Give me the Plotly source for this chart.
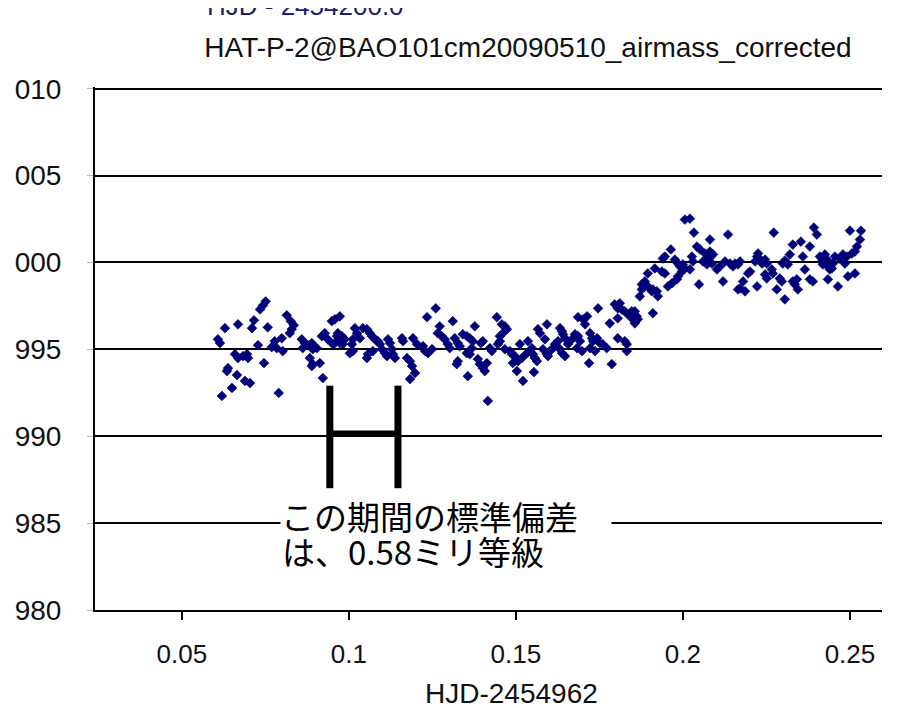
import plotly.graph_objects as go

# ---- data (HJD-2454962, relative flux) ----
hjd_seg1 = [0.0751, 0.0743, 0.0734, 0.0814, 0.0826, 0.0835, 0.0829, 0.0823, 0.0716, 0.0710,
            0.0668, 0.0629, 0.0757, 0.0608, 0.0614, 0.0728, 0.0778, 0.0769, 0.0784, 0.0799,
            0.0802, 0.0659, 0.0683, 0.0695, 0.0668, 0.0698, 0.0746, 0.0638, 0.0635, 0.0665,
            0.0689, 0.0704, 0.0650, 0.0620, 0.0790, 0.0859, 0.0868, 0.0862, 0.0877, 0.0889,
            0.0892, 0.0904, 0.0883, 0.0892, 0.0913, 0.0889, 0.0922, 0.0919, 0.0928, 0.0949,
            0.0958, 0.0937, 0.0952, 0.0964, 0.0958]
flux_seg1 = [0.99776, 0.99753, 0.99730, 0.99696, 0.99662, 0.99639, 0.99616, 0.99593, 0.99667, 0.99622,
             0.99644, 0.99622, 0.99627, 0.99558, 0.99536, 0.99524, 0.99547, 0.99513, 0.99507, 0.99564,
             0.99490, 0.99472, 0.99461, 0.99472, 0.99450, 0.99450, 0.99421, 0.99392, 0.99375, 0.99352,
             0.99318, 0.99306, 0.99278, 0.99232, 0.99249, 0.99558, 0.99536, 0.99507, 0.99524, 0.99536,
             0.99501, 0.99507, 0.99450, 0.99415, 0.99421, 0.99404, 0.99335, 0.99576, 0.99593, 0.99662,
             0.99673, 0.99558, 0.99530, 0.99576, 0.99536]

hjd_seg2 = [0.0973, 0.0967, 0.0979, 0.0988, 0.0973, 0.0982, 0.1018, 0.1024, 0.1033, 0.1012,
            0.1009, 0.1003, 0.1012, 0.1042, 0.1054, 0.1063, 0.1069, 0.1078, 0.1087, 0.1054,
            0.1057, 0.1072, 0.1093, 0.1099, 0.1108, 0.1117, 0.1123, 0.1129, 0.1132, 0.1138,
            0.1114, 0.1159, 0.1162, 0.1174, 0.1183, 0.1189, 0.1198, 0.1183, 0.1192, 0.1204,
            0.1222, 0.1228, 0.1237, 0.1249, 0.1234, 0.1260, 0.1272, 0.1266, 0.1278, 0.1287,
            0.1296, 0.1302, 0.1311, 0.1317, 0.1326, 0.1332, 0.1326, 0.1323, 0.1341, 0.1353, 0.1356]
flux_seg2 = [0.99690, 0.99593, 0.99576, 0.99558, 0.99536, 0.99530, 0.99622, 0.99593, 0.99564, 0.99558,
             0.99530, 0.99478, 0.99490, 0.99622, 0.99616, 0.99593, 0.99576, 0.99558, 0.99547, 0.99450,
             0.99472, 0.99490, 0.99530, 0.99501, 0.99478, 0.99558, 0.99536, 0.99501, 0.99472, 0.99450,
             0.99461, 0.99564, 0.99547, 0.99450, 0.99432, 0.99404, 0.99364, 0.99329, 0.99564, 0.99530,
             0.99518, 0.99490, 0.99478, 0.99501, 0.99685, 0.99736, 0.99633, 0.99593, 0.99576, 0.99558,
             0.99530, 0.99507, 0.99662, 0.99564, 0.99536, 0.99518, 0.99432, 0.99415, 0.99587, 0.99576, 0.99346]

hjd_seg3 = [0.1377, 0.1362, 0.1371, 0.1368, 0.1353, 0.1362, 0.1386, 0.1392, 0.1401, 0.1413,
            0.1407, 0.1395, 0.1401, 0.1422, 0.1428, 0.1446, 0.1452, 0.1443, 0.1458, 0.1467,
            0.1473, 0.1461, 0.1452, 0.1467, 0.1482, 0.1488, 0.1497, 0.1491, 0.1503, 0.1506,
            0.1518, 0.1512, 0.1521, 0.1533, 0.1536, 0.1542, 0.1551, 0.1557, 0.1563, 0.1548,
            0.1554, 0.1566, 0.1572, 0.1593, 0.1587, 0.1581, 0.1593, 0.1596, 0.1602, 0.1611,
            0.1617, 0.1626, 0.1632, 0.1638, 0.1641, 0.1647, 0.1632, 0.1647, 0.1638, 0.1656,
            0.1668, 0.1677, 0.1686, 0.1692, 0.1683, 0.1698, 0.1686, 0.1701, 0.1713, 0.1707,
            0.1722, 0.1728, 0.1731, 0.1722, 0.1737, 0.1719, 0.1746, 0.1416]
flux_seg3 = [0.99633, 0.99564, 0.99547, 0.99507, 0.99478, 0.99472, 0.99444, 0.99415, 0.99392, 0.99421,
             0.99375, 0.99536, 0.99547, 0.99507, 0.99490, 0.99530, 0.99547, 0.99685, 0.99644, 0.99633,
             0.99616, 0.99593, 0.99576, 0.99501, 0.99490, 0.99472, 0.99461, 0.99421, 0.99375, 0.99432,
             0.99450, 0.99530, 0.99318, 0.99478, 0.99547, 0.99490, 0.99472, 0.99450, 0.99432, 0.99507,
             0.99369, 0.99616, 0.99593, 0.99644, 0.99558, 0.99501, 0.99472, 0.99461, 0.99490, 0.99507,
             0.99530, 0.99547, 0.99622, 0.99604, 0.99587, 0.99564, 0.99501, 0.99461, 0.99478, 0.99530,
             0.99558, 0.99587, 0.99576, 0.99547, 0.99507, 0.99490, 0.99685, 0.99673, 0.99690, 0.99644,
             0.99593, 0.99564, 0.99547, 0.99507, 0.99490, 0.99421, 0.99736, 0.99203]

hjd_seg4 = [0.2006, 0.2021, 0.2033, 0.2081, 0.2042, 0.2051, 0.2066, 0.2081, 0.2090, 0.2075,
            0.2060, 0.2072, 0.2087, 0.2027, 0.2030, 0.1964, 0.1946, 0.1940, 0.1976, 0.1985,
            0.1991, 0.2000, 0.2006, 0.1997, 0.1985, 0.1982, 0.2021, 0.1916, 0.1937, 0.1946,
            0.1955, 0.1967, 0.2048, 0.1895, 0.1886, 0.1877, 0.1895, 0.1907, 0.1910, 0.1922,
            0.1925, 0.1871, 0.1877, 0.2102, 0.2111, 0.2120, 0.2135, 0.1796, 0.1805, 0.1811,
            0.1817, 0.1826, 0.1835, 0.1847, 0.1856, 0.1862, 0.1850, 0.1856, 0.1865, 0.1805,
            0.1781, 0.1910, 0.1743, 0.1751, 0.1760, 0.1772, 0.1805, 0.1832, 0.1832, 0.1826, 0.1787]
flux_seg4 = [1.00247, 1.00252, 1.00172, 1.00132, 1.00092, 1.00075, 1.00052, 1.00063, 1.00046, 1.00023,
             1.00006, 0.99989, 0.99994, 1.00034, 1.00006, 1.00075, 1.00034, 1.00023, 1.00017, 0.99994,
             0.99977, 0.99989, 0.99966, 0.99948, 0.99920, 0.99903, 0.99960, 0.99966, 0.99948, 0.99937,
             0.99862, 0.99880, 0.99874, 0.99937, 0.99891, 0.99874, 0.99862, 0.99834, 0.99845, 0.99834,
             0.99805, 0.99805, 0.99845, 0.99960, 0.99977, 0.99891, 1.00161, 0.99759, 0.99736, 0.99765,
             0.99730, 0.99719, 0.99702, 0.99719, 0.99719, 0.99690, 0.99673, 0.99650, 0.99673, 0.99679,
             0.99650, 0.99708, 0.99564, 0.99536, 0.99530, 0.99507, 0.99564, 0.99530, 0.99490, 0.99547, 0.99415]

hjd_seg5 = [0.2272, 0.2392, 0.2401, 0.2500, 0.2533, 0.2530, 0.2521, 0.2329, 0.2353, 0.2380,
            0.2320, 0.2305, 0.2299, 0.2314, 0.2359, 0.2225, 0.2222, 0.2231, 0.2216, 0.2237,
            0.2251, 0.2246, 0.2126, 0.2141, 0.2156, 0.2165, 0.2171, 0.2150, 0.2201, 0.2195,
            0.2246, 0.2251, 0.2266, 0.2269, 0.2180, 0.2171, 0.2186, 0.2165, 0.2222, 0.2290,
            0.2296, 0.2281, 0.2305, 0.2329, 0.2341, 0.2335, 0.2344, 0.2365, 0.2380, 0.2389,
            0.2410, 0.2416, 0.2419, 0.2431, 0.2434, 0.2440, 0.2446, 0.2449, 0.2425, 0.2455,
            0.2470, 0.2479, 0.2491, 0.2485, 0.2434, 0.2464, 0.2494, 0.2515, 0.2506, 0.2515]
flux_seg5 = [1.00172, 1.00201, 1.00161, 1.00183, 1.00183, 1.00132, 1.00092, 1.00103, 1.00120, 1.00092,
             1.00046, 1.00011, 0.99994, 0.99989, 1.00034, 1.00052, 1.00034, 1.00017, 1.00006, 0.99994,
             0.99994, 1.00017, 1.00006, 0.99994, 0.99994, 0.99989, 1.00006, 0.99977, 0.99948, 0.99937,
             0.99931, 0.99908, 0.99960, 0.99937, 0.99891, 0.99851, 0.99834, 0.99845, 0.99862, 0.99908,
             0.99891, 0.99845, 0.99788, 0.99891, 0.99903, 0.99874, 0.99845, 0.99960, 0.99903, 0.99891,
             1.00034, 1.00006, 0.99989, 1.00017, 0.99977, 0.99960, 0.99966, 0.99994, 1.00046, 1.00034,
             1.00023, 1.00046, 1.00034, 0.99994, 0.99903, 0.99862, 0.99920, 0.99937, 1.00052, 1.00063]

y_tick_vals = [0.980, 0.985, 0.990, 0.995, 1.000, 1.005, 1.010]
y_tick_text = ["980", "985", "990", "995", "000", "005", "010"]
x_tick_vals = [0.05, 0.10, 0.15, 0.20, 0.25]
x_tick_text = ["0.05", "0.1", "0.15", "0.2", "0.25"]

title_text = "HAT-P-2@BAO101cm20090510_airmass_corrected"
top_cut_text = "HJD - 2454200.0"
x_title = "HJD-2454962"
note_line1 = "この期間の標準偏差"
note_line2 = "は、0.58ミリ等級"

# H-shaped marker of the measurement interval (data coordinates)
bracket_x = [0.0943, 0.1147]
bracket_y = [0.98701, 0.99291]
bracket_bar_y = 0.99016

hjd = hjd_seg1 + hjd_seg2 + hjd_seg3 + hjd_seg4 + hjd_seg5
flux = flux_seg1 + flux_seg2 + flux_seg3 + flux_seg4 + flux_seg5

FONT = "Liberation Sans, Arial, sans-serif"
TXT = "#111111"

fig = go.Figure()
fig.add_trace(go.Scatter(
    x=hjd, y=flux, mode="markers",
    marker=dict(symbol="diamond", size=7.5, color="#000080",
                line=dict(width=0.6, color="#000050")),
    hoverinfo="x+y", showlegend=False,
))

# H bracket
for bx in bracket_x:
    fig.add_shape(type="line", xref="x", yref="y", x0=bx, x1=bx,
                  y0=bracket_y[0], y1=bracket_y[1],
                  line=dict(color="black", width=7))
fig.add_shape(type="line", xref="x", yref="y", x0=bracket_x[0], x1=bracket_x[1],
              y0=bracket_bar_y, y1=bracket_bar_y, line=dict(color="black", width=6))

# note, one annotation per line (tight line spacing as in the original)
fig.add_annotation(
    x=0.0793, y=0.98540, xref="x", yref="y", xanchor="left", yanchor="middle",
    text=note_line1 + "\u3000", showarrow=False, align="left",
    bgcolor="white", borderpad=0,
    font=dict(family="Noto Sans CJK JP", size=33, color="black"),
)
fig.add_annotation(
    x=0.0793, y=0.98339, xref="x", yref="y", xanchor="left", yanchor="middle",
    text=note_line2, showarrow=False, align="left",
    font=dict(family="Noto Sans CJK JP", size=33, color="black"),
)

# partly cut label at the very top
fig.add_annotation(
    x=0.1398, y=1.1549, xref="paper", yref="paper", xanchor="left", yanchor="middle",
    text=top_cut_text, showarrow=False,
    font=dict(family=FONT, size=26, color="#202068"),
)

# x axis title (offset to the right of the plot centre as in the original)
fig.add_annotation(
    x=0.5286, y=-0.159, xref="paper", yref="paper", xanchor="center", yanchor="middle",
    text=x_title, showarrow=False,
    font=dict(family=FONT, size=28, color=TXT),
)

fig.update_layout(
    width=895, height=700,
    margin=dict(l=87, r=21, t=79, b=98, autoexpand=False),
    paper_bgcolor="white", plot_bgcolor="white",
    font=dict(family=FONT, size=26, color="black"),
    showlegend=False,
    title=dict(text=title_text, x=0.581, xanchor="center", xref="container",
               y=1 - 39 / 700, yanchor="middle", yref="container",
               font=dict(family=FONT, size=28, color=TXT)),
)

fig.update_xaxes(
    range=[0.024, 0.2596],
    tickvals=x_tick_vals, ticktext=x_tick_text,
    showgrid=False, zeroline=False,
    showline=True, linecolor="black", linewidth=2,
    ticks="outside", ticklen=8, tickwidth=1.5, tickcolor="black",
    ticklabelstandoff=12,
    tickfont=dict(family=FONT, size=26, color=TXT),
)

fig.update_yaxes(
    range=[0.980, 1.0101],
    tickvals=y_tick_vals, ticktext=y_tick_text,
    showgrid=True, gridcolor="black", gridwidth=1.5,
    zeroline=False,
    showline=True, linecolor="black", linewidth=2,
    ticks="outside", ticklen=6, tickwidth=1, tickcolor="#bbbbbb",
    ticklabelstandoff=20,
    tickfont=dict(family=FONT, size=28, color=TXT),
)

fig.write_html("out.html")
